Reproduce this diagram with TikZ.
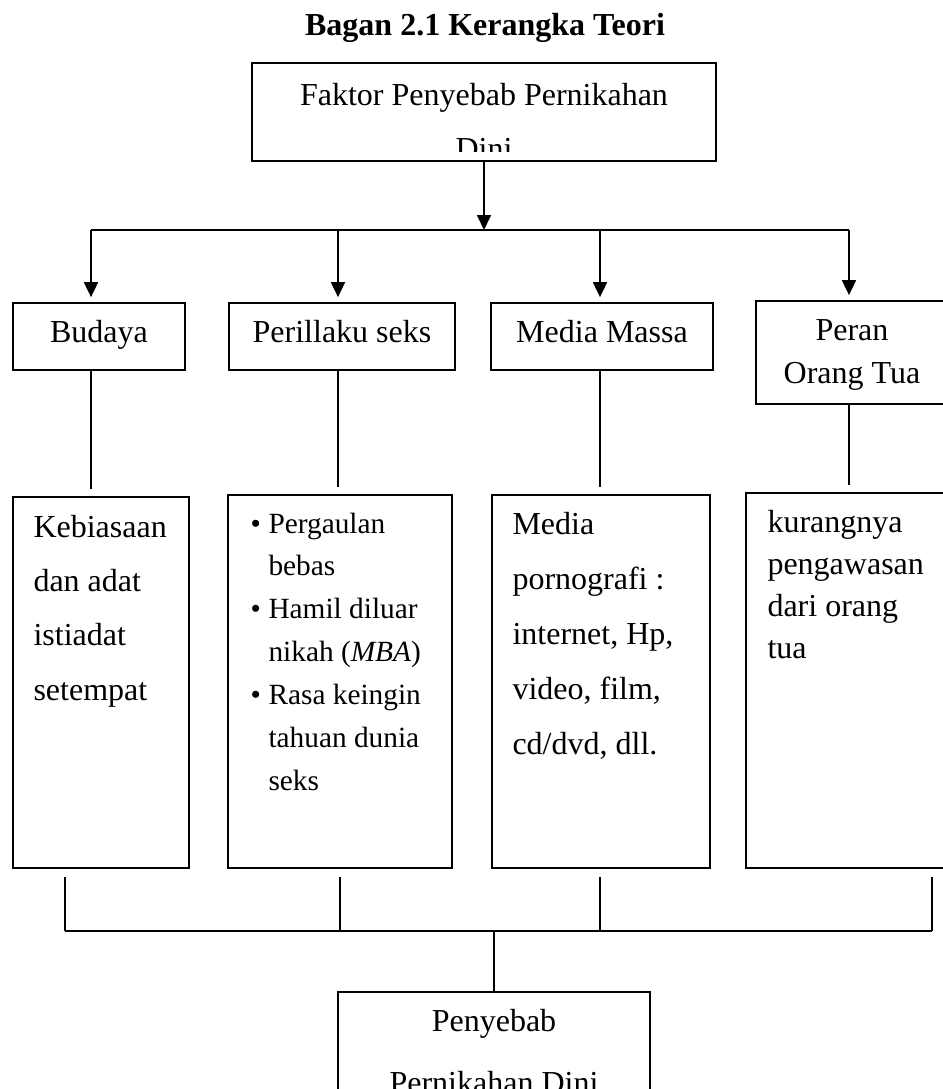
\documentclass[tikz,border=0pt]{standalone}
\usepackage{fontspec}
\setmainfont{Liberation Serif}
\usetikzlibrary{arrows.meta}
\newcommand{\pxl}{0.375pt}

\begin{document}
\begin{tikzpicture}
    [x=0.375pt, y=-0.375pt,
    kotak/.style={draw, rectangle, line width=0.75pt,
        inner sep=0pt, outer sep=0pt},
    teks/.style={inner sep=0pt, align=center, anchor=base,
        font=\fontsize{12}{20.5}\selectfont},
    isi/.style={inner sep=0pt, align=left, anchor=base west},
    garis/.style={line width=0.75pt},
    panah/.style={garis, -{Triangle[length=5.6pt,width=5.2pt]}}]

    % Page frame
    \clip (0,0) rectangle (943,1089);

    % Title
    \node [teks,
        font=\fontsize{12}{14}\selectfont\bfseries]
        (judul) at (485,35) {Bagan 2.1 Kerangka Teori};

    % Top box (base = last line)
    \node [kotak,
        minimum width=464*\pxl,
        minimum height=98*\pxl]
        (faktor) at (484,112) {};
    \begin{scope}
        \clip (252,63) rectangle (716,151);
        \node [teks] (faktorTeks) at (484,159.7)
            {Faktor Penyebab Pernikahan\\Dini};
    \end{scope}

    % Upper boxes
    \node [kotak,
        minimum width=172*\pxl,
        minimum height=67*\pxl]
        (budaya) at (99,336.5) {};
    \node [kotak,
        minimum width=226*\pxl,
        minimum height=67*\pxl]
        (perilaku) at (342,336.5) {};
    \node [kotak,
        minimum width=222*\pxl,
        minimum height=67*\pxl]
        (media) at (602,336.5) {};
    \node [kotak,
        minimum width=204*\pxl,
        minimum height=103*\pxl]
        (peran) at (858,352.5) {};

    % Upper labels
    \node [teks] (budayaTeks) at (99,342) {Budaya};
    \node [teks] (perilakuTeks) at (342,342) {Perillaku seks};
    \node [teks] (mediaTeks) at (602,342) {Media Massa};
    \node [teks,
        font=\fontsize{12}{15.8}\selectfont]
        (peranTeks) at (852,383.1) {Peran\\Orang Tua};

    % Lower boxes
    \node [kotak,
        minimum width=176*\pxl,
        minimum height=371*\pxl]
        (budayaIsi) at (101,682.5) {};
    \node [kotak,
        minimum width=224*\pxl,
        minimum height=373*\pxl]
        (perilakuIsi) at (340,681.5) {};
    \node [kotak,
        minimum width=218*\pxl,
        minimum height=373*\pxl]
        (mediaIsi) at (601,681.5) {};
    \node [kotak,
        minimum width=214*\pxl,
        minimum height=375*\pxl]
        (peranIsi) at (853,680.5) {};

    % Lower texts (base = last line)
    \node [isi,
        font=\fontsize{12}{20.4}\selectfont]
        (budayaIsiTeks) at (33,700.2)
        {Kebiasaan\\dan adat\\istiadat\\setempat};
    \node [isi,
        font=\fontsize{11}{16.1}\selectfont]
        (perilakuIsiTeks) at (250,790.6)
        {\makebox[6.75pt][l]{\textbullet}Pergaulan\\
         \hspace*{6.75pt}bebas\\
         \makebox[6.75pt][l]{\textbullet}Hamil diluar\\
         \hspace*{6.75pt}nikah (\textit{MBA})\\
         \makebox[6.75pt][l]{\textbullet}Rasa keingin\\
         \hspace*{6.75pt}tahuan dunia\\
         \hspace*{6.75pt}seks};
    \node [isi,
        font=\fontsize{12}{20.6}\selectfont]
        (mediaIsiTeks) at (512,754.7)
        {Media\\pornografi :\\internet, Hp,\\video, film,\\cd/dvd, dll.};
    \node [isi,
        font=\fontsize{12}{15.8}\selectfont]
        (peranIsiTeks) at (767,658.4)
        {kurangnya\\pengawasan\\dari orang\\tua};

    % Bottom box
    \node [kotak,
        minimum width=312*\pxl,
        minimum height=128*\pxl]
        (penyebab) at (494,1056) {};
    \node [teks,
        font=\fontsize{12}{23}\selectfont]
        (penyebabTeks) at (494,1093.3) {Penyebab\\Pernikahan Dini};

    % Top branching
    \coordinate (atasBudaya) at (91,230);
    \coordinate (atasPerilaku) at (338,230);
    \coordinate (atasMedia) at (600,230);
    \coordinate (atasPeran) at (849,230);
    \draw [panah] (faktor.south) -- (faktor.south |- atasBudaya);
    \draw [garis] (atasBudaya) -- (atasPeran);
    \draw [panah, shorten >=2.2pt] (atasBudaya) -- (atasBudaya |- budaya.north);
    \draw [panah, shorten >=2.2pt] (atasPerilaku) -- (atasPerilaku |- perilaku.north);
    \draw [panah, shorten >=2.2pt] (atasMedia) -- (atasMedia |- media.north);
    \draw [panah, shorten >=2.2pt] (atasPeran) -- (atasPeran |- peran.north);

    % Upper to lower
    \draw [garis, shorten >=3pt] (atasBudaya |- budaya.south) -- (atasBudaya |- budayaIsi.north);
    \draw [garis, shorten >=3pt] (atasPerilaku |- perilaku.south) -- (atasPerilaku |- perilakuIsi.north);
    \draw [garis, shorten >=3pt] (atasMedia |- media.south) -- (atasMedia |- mediaIsi.north);
    \draw [garis, shorten >=3pt] (atasPeran |- peran.south) -- (atasPeran |- peranIsi.north);

    % Bottom joining
    \coordinate (bawahBudaya) at (65,931);
    \coordinate (bawahPerilaku) at (340,931);
    \coordinate (bawahMedia) at (600,931);
    \coordinate (bawahPeran) at (932,931);
    \draw [garis, shorten <=3.4pt] (bawahBudaya |- budayaIsi.south) -- (bawahBudaya);
    \draw [garis, shorten <=3.4pt] (bawahPerilaku |- perilakuIsi.south) -- (bawahPerilaku);
    \draw [garis, shorten <=3.4pt] (bawahMedia |- mediaIsi.south) -- (bawahMedia);
    \draw [garis, shorten <=3.4pt] (bawahPeran |- peranIsi.south) -- (bawahPeran);
    \draw [garis] (bawahBudaya) -- (bawahPeran);
    \draw [garis] (penyebab.north |- bawahBudaya) -- (penyebab.north);
\end{tikzpicture}
\end{document}
